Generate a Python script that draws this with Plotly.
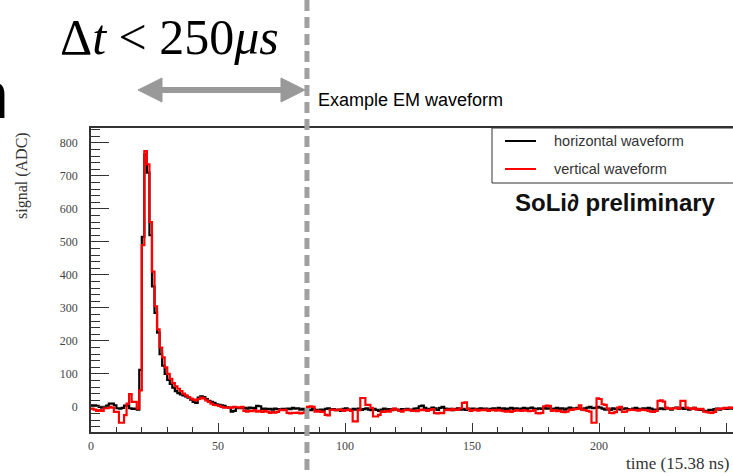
import numpy as np
import plotly.graph_objects as go

# ---------------- data ----------------
horizontal = [
    5, 5, 3, 0, -2, 0, 4, 10, 10, 5,
    -4, -5, -3, 4, 4, -4, -6, -5, -8, 112,
    515, 765, 710, 520, 365, 285, 225, 160, 125, 100,
    82, 70, 58, 48, 42, 38, 35, 32, 28, 22,
    15, 12, 28, 32, 30, 24, 18, 15, 12, 8,
    6, 5, 3, -1, -2, -14, -12, -3, -4, -2,
    -3, -5, -2, -4, -3, 3, 2, -6, -5, -7,
    -6, -8, -5, -7, -9, -6, -8, -5, -7, -3,
    -5, -4, -8, -6, -9, -8, -10, -6, -9, -12,
    -8, -10, -6, -4, -9, -7, -10, -8, -12, -6,
    -4, -8, -10, -6, -8, -5, -9, -7, -4, -8,
    -10, -6, -9, -12, -8, -5, -9, -7, -10, -6,
    -8, -11, -7, -9, -6, -10, -8, -5, -4, 2,
    4, -3, -8, -6, -2, -4, -9, -3, 0, -5,
    -8, -6, -10, -7, -4, -8, -6, -9, -5, -7,
    -5, -8, -6, -4, -7, -5, -9, -6, -4, -8,
    -3, -6, -4, -7, -5, -3, -6, -4, -8, -5,
    -3, -6, -4, -2, -5, -7, -4, -6, -3, -5,
    -4, -7, -5, -3, -6, -4, -8, -5, -2, -4,
    -6, -3, -5, -8, -4, -2, 0, -4, -3, 0,
    -2, -5, -8, -6, -9, -4, -7, -5, -8, -6,
    -4, -7, -9, -5, -3, -6, -8, -4, -6, -3,
    -5, -8, -10, -6, -4, -7, -3, -5, -8, -4,
    -2, -5, -3, -6, -4, -8, -5, -3, -6, -9,
    -8, -12, -14, -9, -10, -7, -5, -8, -6, -4,
    -6, -3, -5, -7, -4, -6,
]
vertical = [
    -5, -8, -12, -10, -12, -4, -4, 0, -2, -15,
    -15, -48, -48, -25, 10, 39, 15, 15, -5, 50,
    490, 775, 735, 560, 410, 305, 235, 180, 150, 120,
    100, 85, 72, 62, 55, 48, 40, 35, 30, 25,
    22, 20, 24, 28, 26, 20, 15, 10, 6, 5,
    3, 0, -2, -1, -3, -2, 0, -1, -2, 0,
    -12, -14, -12, -13, -10, -14, -12, -15, -12, -14,
    -18, -16, -17, -15, -9, -10, -9, -18, -20, -18,
    -18, -17, -20, -18, -16, 0, 2, 0, -14, -12,
    -15, -14, -24, -26, -9, -8, -10, -9, -8, -12,
    -10, -8, -12, -44, -44, -10, 27, 27, 6, 6,
    -3, -29, -29, -24, -14, -15, -12, -14, -8, -5,
    -9, -12, -14, -10, -8, -9, -12, -11, -13, -10,
    -8, -10, -12, -9, -7, -19, -20, -18, -19, -10,
    -8, -10, -6, -9, -8, -4, 12, 14, -6, -12,
    -10, -8, -11, -9, -10, -8, -12, -10, -9, -11,
    -9, -11, -13, -14, -12, -15, -12, -10, -11, -12,
    -10, -11, -13, -12, -10, -19, -20, -18, 2, 4,
    3, -12, -10, -13, -11, -15, -16, -14, -8, -9,
    -7, -6, 5, -8, -10, -12, -14, -48, -48, 26,
    24, 8, 6, -5, -18, -19, -16, -2, 0, -15,
    -14, -10, -8, -9, -10, -11, -8, -9, -10, -12,
    -14, -15, -12, 18, 20, 16, -3, -5, -6, -4,
    -3, -5, 18, 18, -2, -4, -6, -3, -8, -7,
    -6, -14, -16, -17, -18, -15, -7, -5, -6, -3,
    -4, -2, -3, -2, -4, -3,
]
x_ticks = [0, 50, 100, 150, 200, 250]
y_ticks = [0, 100, 200, 300, 400, 500, 600, 700, 800]
legend_labels = ["horizontal waveform", "vertical waveform"]
cut_time = 85.0

# ---------------- geometry helpers ----------------
W, H = 733, 476
L, R, T, B = 91, 0, 128, 44
PW, PH = W - L - R, H - T - B


def px(x):
    return (x - L) / PW


def py(y):
    return (H - B - y) / PH


def steps(vals):
    xs = list(range(len(vals))) + [len(vals)]
    ys = list(vals) + [vals[-1]]
    return xs, ys


fig = go.Figure()
xh, yh = steps(horizontal)
xv, yv = steps(vertical)
fig.add_trace(go.Scatter(x=xh, y=yh, mode="lines", line=dict(color="black", width=2.2, shape="hv"),
                         name=legend_labels[0], showlegend=False))
fig.add_trace(go.Scatter(x=xv, y=yv, mode="lines", line=dict(color="#ff0000", width=2.2, shape="hv"),
                         name=legend_labels[1], showlegend=False))

tickfont = dict(family="Liberation Serif, Times New Roman, serif", size=12, color="#444")
fig.update_layout(
    width=W, height=H,
    margin=dict(l=L, r=R, t=T, b=B),
    paper_bgcolor="white", plot_bgcolor="white",
    showlegend=False,
    xaxis=dict(range=[0, 252.7], tickvals=x_ticks, ticks="inside", ticklen=9, tickwidth=1,
               tickcolor="#333", showline=True, linecolor="#333", linewidth=1.5, mirror=True,
               showgrid=False, zeroline=False, tickfont=tickfont, ticklabelstandoff=2,
               minor=dict(dtick=10, ticklen=5, ticks="inside", tickcolor="#333", tickwidth=1)),
    yaxis=dict(range=[-76, 845], tickvals=y_ticks, ticks="inside", ticklen=18, tickwidth=1,
               tickcolor="#333", showline=True, linecolor="#333", linewidth=1.5,
               showgrid=False, zeroline=False, tickfont=tickfont, ticklabelstandoff=9,
               minor=dict(dtick=20, ticklen=9, ticks="inside", tickcolor="#333", tickwidth=1)),
)

shapes = []
# dashed vertical line spanning full picture
shapes.append(dict(type="line", xref="x", yref="paper", x0=cut_time, x1=cut_time,
                   y0=py(0), y1=py(H), line=dict(color="#a0a0a0", width=5, dash="11px,6px")))
# double arrow
ay = 90
pts = [(138, ay), (162, ay - 12), (162, ay - 2.5), (281, ay - 2.5), (281, ay - 12), (305, ay),
       (281, ay + 12), (281, ay + 2.5), (162, ay + 2.5), (162, ay + 12)]
path = "M " + " L ".join(f"{px(a):.5f},{py(b):.5f}" for a, b in pts) + " Z"
shapes.append(dict(type="path", xref="paper", yref="paper", path=path,
                   fillcolor="#999999", line=dict(color="#999999", width=1)))
# legend box
shapes.append(dict(type="rect", xref="paper", yref="paper", x0=px(492), x1=px(740),
                   y0=py(183), y1=py(128), line=dict(color="#333", width=1), fillcolor="white"))
shapes.append(dict(type="line", xref="paper", yref="paper", x0=px(505), x1=px(536),
                   y0=py(141), y1=py(141), line=dict(color="black", width=2)))
shapes.append(dict(type="line", xref="paper", yref="paper", x0=px(505), x1=px(536),
                   y0=py(169), y1=py(169), line=dict(color="#ff0000", width=2)))
fig.update_layout(shapes=shapes)

sans = "Liberation Sans, Arial, sans-serif"
serif = "Liberation Serif, Times New Roman, serif"
ann = []
ann.append(dict(xref="paper", yref="paper", x=px(552), y=py(141), text=legend_labels[0],
                showarrow=False, xanchor="left", yanchor="middle",
                font=dict(family=sans, size=14.5, color="#333")))
ann.append(dict(xref="paper", yref="paper", x=px(552), y=py(169), text=legend_labels[1],
                showarrow=False, xanchor="left", yanchor="middle",
                font=dict(family=sans, size=14.5, color="#333")))
ann.append(dict(xref="paper", yref="paper", x=px(615), y=py(202), text="<b>SoLi∂ preliminary</b>",
                showarrow=False, xanchor="center", yanchor="middle",
                font=dict(family=sans, size=24, color="#111")))
ann.append(dict(xref="paper", yref="paper", x=px(316), y=py(100), text="Example EM waveform",
                showarrow=False, xanchor="left", yanchor="middle",
                font=dict(family=sans, size=18, color="black")))
ann.append(dict(xref="paper", yref="paper", x=px(169), y=py(37),
                text="Δ<i>t</i> &lt; 250<i>μs</i>",
                showarrow=False, xanchor="center", yanchor="middle",
                font=dict(family=serif, size=50, color="black")))
ann.append(dict(xref="paper", yref="paper", x=px(11), y=py(95), text="n",
                showarrow=False, xanchor="right", yanchor="middle",
                font=dict(family=sans, size=66, color="black")))
ann.append(dict(xref="paper", yref="paper", x=px(22), y=py(176), text="signal (ADC)",
                showarrow=False, xanchor="center", yanchor="middle", textangle=-90,
                font=dict(family=serif, size=16, color="#333")))
ann.append(dict(xref="paper", yref="paper", x=px(731), y=py(463), text="time (15.38 ns)",
                showarrow=False, xanchor="right", yanchor="middle",
                font=dict(family=serif, size=17, color="#333")))
fig.update_layout(annotations=ann)

fig.write_html("out.html")
